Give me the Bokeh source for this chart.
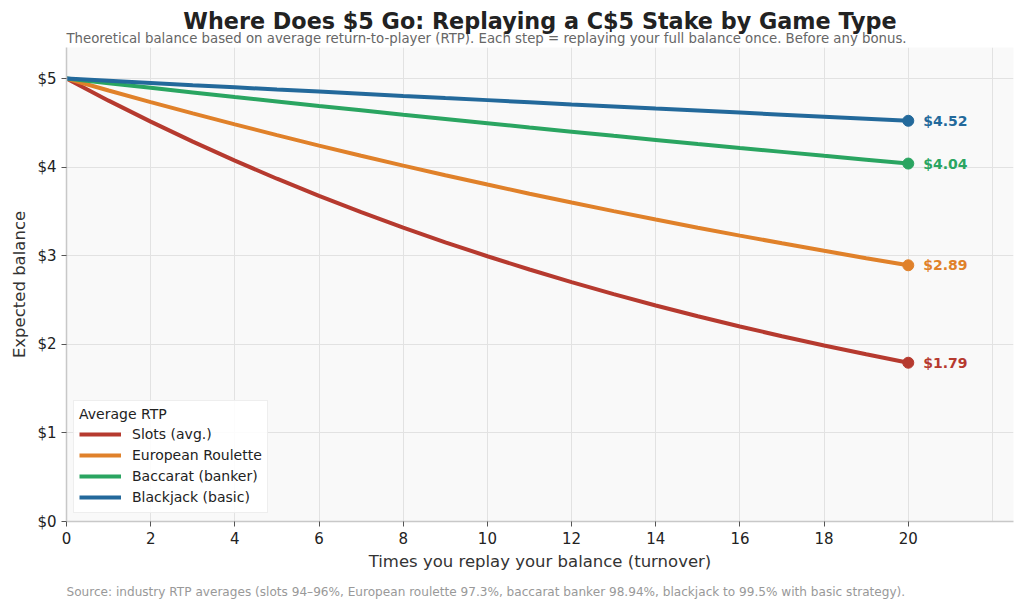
from bokeh.plotting import figure
from bokeh.models import (Legend, LegendItem, FixedTicker, PrintfTickFormatter, Range1d, Title)
from bokeh.embed import file_html
from bokeh.resources import INLINE
from bokeh.core.properties import value

turns = list(range(21))
slots = [5.000, 4.750, 4.513, 4.287, 4.073, 3.869, 3.675, 3.492, 3.317, 3.151, 2.994,
         2.844, 2.702, 2.567, 2.438, 2.316, 2.201, 2.091, 1.986, 1.887, 1.792]
roulette = [5.000, 4.865, 4.734, 4.606, 4.482, 4.361, 4.243, 4.128, 4.017, 3.908, 3.803,
            3.700, 3.600, 3.503, 3.408, 3.316, 3.227, 3.140, 3.055, 2.972, 2.892]
baccarat = [5.000, 4.947, 4.895, 4.843, 4.791, 4.741, 4.690, 4.641, 4.591, 4.543, 4.495,
            4.447, 4.400, 4.353, 4.307, 4.261, 4.216, 4.172, 4.127, 4.084, 4.040]
blackjack = [5.000, 4.975, 4.950, 4.925, 4.901, 4.876, 4.852, 4.828, 4.803, 4.779, 4.756,
             4.732, 4.708, 4.685, 4.661, 4.638, 4.615, 4.592, 4.569, 4.546, 4.523]
series_names = ["Slots (avg.)", "European Roulette", "Baccarat (banker)", "Blackjack (basic)"]
end_labels = ["$1.79", "$2.89", "$4.04", "$4.52"]
x_ticks = [0, 2, 4, 6, 8, 10, 12, 14, 16, 18, 20]
y_ticks = [0, 1, 2, 3, 4, 5]

colors = ["#b63a2f", "#e0812a", "#2aa561", "#23699b"]
FONT = "DejaVu Sans"

p = figure(width=1024, height=608, output_backend="svg", toolbar_location=None,
           x_range=Range1d(0, 22.5), y_range=Range1d(0, 5.35),
           min_border_left=66, min_border_right=11, min_border_top=47, min_border_bottom=87,
           background_fill_color="#f9f9f9", border_fill_color="white", outline_line_color=None,
           title=None)

sub = Title(text="Theoretical balance based on average return-to-player (RTP). Each step = replaying your full balance once. Before any bonus.",
            text_font_size="13.3px", text_color="#666666", text_font=FONT, text_font_style="normal",
            align="left", standoff=3, offset=0)
main = Title(text="Where Does $5 Go: Replaying a C$5 Stake by Game Type",
             text_font_size="22.3px", text_color="#222222", text_font=FONT, text_font_style="bold",
             align="center", standoff=-12, offset=0, text_line_height=0.7)
p.add_layout(sub, "above")
p.add_layout(main, "above")

src_note = Title(text="Source: industry RTP averages (slots 94\u201396%, European roulette 97.3%, baccarat banker 98.94%, blackjack to 99.5% with basic strategy).",
                 text_font_size="12.1px", text_color="#999999", text_font=FONT, text_font_style="normal",
                 align="left", standoff=18)
p.add_layout(src_note, "below")

all_series = [slots, roulette, baccarat, blackjack]
items = []
for name, ys, c, lab in zip(series_names, all_series, colors, end_labels):
    r = p.line(turns, ys, line_color=c, line_width=4)
    items.append(LegendItem(label=name, renderers=[r]))
    p.scatter([turns[-1]], [ys[-1]], size=11, color=c)
    p.text([turns[-1]], [ys[-1]], text=[lab], x_offset=15, text_baseline="middle",
           text_color=c, text_font=value(FONT), text_font_style="bold", text_font_size="14px")

legend = Legend(items=items, location=(7, 8), title="Average RTP",
                title_text_font=FONT, title_text_font_size="14px", title_text_color="#222222",
                title_text_font_style="normal", title_standoff=2,
                label_text_font=FONT, label_text_font_size="14px", label_text_color="#222222",
                glyph_width=42, glyph_height=20, label_height=20, spacing=1, label_standoff=11,
                border_line_color="#dddddd", background_fill_color="white",
                background_fill_alpha=0.9, padding=5, margin=0)
p.add_layout(legend, "center")

for ax in (p.xaxis[0], p.yaxis[0]):
    ax.axis_line_color = "#c8c8c8"
    ax.axis_line_width = 1.5
    ax.major_tick_line_color = "#555555"
    ax.major_tick_in = 0
    ax.major_tick_out = 5
    ax.minor_tick_line_color = None
    ax.major_label_text_font = FONT
    ax.major_label_text_font_size = "15px"
    ax.major_label_text_color = "#222222"
    ax.axis_label_text_font = FONT
    ax.axis_label_text_font_size = "16.5px"
    ax.axis_label_text_color = "#333333"
    ax.axis_label_text_font_style = "normal"

p.xaxis.ticker = FixedTicker(ticks=x_ticks)
p.yaxis.ticker = FixedTicker(ticks=y_ticks)
p.yaxis.formatter = PrintfTickFormatter(format="$%d")
p.xaxis.axis_label = "Times you replay your balance (turnover)"
p.yaxis.axis_label = "Expected balance"

p.xgrid.grid_line_color = "#e2e2e2"
p.ygrid.grid_line_color = "#e2e2e2"
p.xgrid.ticker = FixedTicker(ticks=x_ticks + [22])

open("out.html", "w").write(file_html(p, INLINE))
